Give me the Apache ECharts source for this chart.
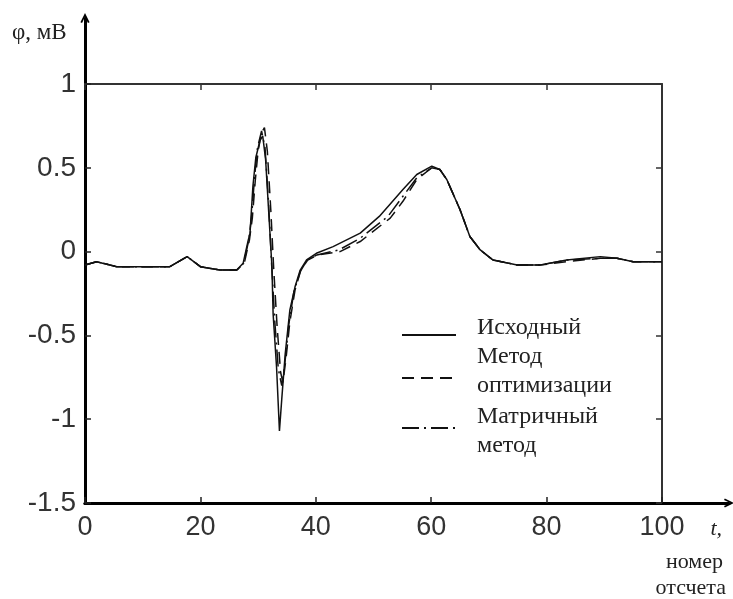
<!DOCTYPE html>
<html>
<head>
<meta charset="utf-8">
<script src="https://cdn.jsdelivr.net/npm/echarts@6/dist/echarts.min.js"></script>
<style>
  html, body { margin: 0; padding: 0; background: #fff; }
  #chart { width: 733px; height: 599px; }
</style>
</head>
<body>
<div id="chart"></div>
<script>
// номер отсчета / значения
var tOrig = [0, 2, 5.5, 10, 14.7, 17.7, 20, 23.4, 26.3, 27.4, 28.3, 28.6, 29.1, 29.6, 30.3, 30.8, 31.3, 31.9, 32.4, 32.6, 33.2, 33.7, 34.1, 34.7, 35.5, 36.4, 37.3, 38.4, 40.1, 43, 47.7, 51, 55.1, 57.5, 60.1, 61.5, 62.7, 65, 66.7, 68.5, 70.7, 74.9, 78.9, 83.5, 89.3, 92.2, 95, 100];
var yOrig = [-0.08, -0.06, -0.09, -0.09, -0.09, -0.03, -0.09, -0.11, -0.11, -0.07, 0.07, 0.11, 0.39, 0.56, 0.66, 0.69, 0.55, 0.2, -0.09, -0.37, -0.69, -1.07, -0.88, -0.61, -0.35, -0.21, -0.11, -0.05, -0.01, 0.03, 0.11, 0.21, 0.37, 0.46, 0.51, 0.49, 0.43, 0.25, 0.09, 0.01, -0.05, -0.08, -0.08, -0.05, -0.03, -0.04, -0.06, -0.06];

var tOpt = [0, 2, 5.5, 14.7, 17.7, 20, 23.4, 26.3, 27.6, 28.5, 29, 29.5, 30, 30.6, 31.1, 31.6, 32.2, 32.7, 33.3, 33.9, 34.3, 34.8, 35.5, 36.4, 37.4, 38.6, 40.3, 44.2, 47.7, 52.9, 55.1, 57.5, 60.1, 61.5, 62.7, 65, 66.7, 68.5, 70.7, 74.9, 78.9, 83.5, 89.3, 92.2, 95, 100];
var yOpt = [-0.08, -0.06, -0.09, -0.09, -0.03, -0.09, -0.11, -0.11, -0.07, 0.07, 0.2, 0.42, 0.6, 0.71, 0.74, 0.6, 0.25, -0.1, -0.45, -0.72, -0.78, -0.65, -0.42, -0.23, -0.11, -0.05, -0.02, 0.0, 0.06, 0.2, 0.3, 0.43, 0.5, 0.49, 0.43, 0.25, 0.09, 0.01, -0.05, -0.08, -0.08, -0.06, -0.04, -0.04, -0.06, -0.06];

var tMatr = [0, 2, 5.5, 14.7, 17.7, 20, 23.4, 26.3, 27.5, 28.4, 28.9, 29.4, 29.9, 30.6, 31.2, 31.8, 32.3, 32.9, 33.5, 34.1, 34.6, 35.3, 36.2, 37.3, 38.5, 40.2, 44, 47.7, 52.5, 55.1, 57.5, 60.1, 61.5, 62.7, 65, 66.7, 68.5, 70.7, 74.9, 78.9, 83.5, 89.3, 92.2, 95, 100];
var yMatr = [-0.08, -0.06, -0.09, -0.09, -0.03, -0.09, -0.11, -0.11, -0.07, 0.07, 0.22, 0.45, 0.62, 0.72, 0.62, 0.3, -0.05, -0.42, -0.7, -0.8, -0.68, -0.44, -0.24, -0.12, -0.05, -0.02, 0.01, 0.08, 0.21, 0.33, 0.44, 0.5, 0.49, 0.43, 0.25, 0.09, 0.01, -0.05, -0.08, -0.08, -0.05, -0.04, -0.04, -0.06, -0.06];

var seriesNames = ['Исходный', 'Метод оптимизации', 'Матричный метод'];

function pairs(xs, ys) {
    var out = [];
    for (var i = 0; i < xs.length; i++) out.push([xs[i], ys[i]]);
    return out;
}

var labelFont = '"Liberation Sans", Arial, sans-serif';
var serif = '"Liberation Serif", "Times New Roman", serif';
// open chevron for the axis arrows
var arrow = 'path://M0,10 L5,0 L10,10 L8.2,10.9 L5,4 L1.8,10.9 Z';

// legend text: empty lines shift the words against the line sample, as in the picture
var legendText = {};
legendText[seriesNames[0]] = '{s| }\n{t|Исходный}\n{b| }';
legendText[seriesNames[1]] = '{t|Метод}\n{t|оптимизации}\n{s| }';
legendText[seriesNames[2]] = '{a| }\n{t|Матричный}\n{t|метод}';

var myChart = echarts.init(document.getElementById('chart'));
myChart.setOption({
    animation: false,
    backgroundColor: '#fff',
    grid: [
        { left: 85, right: 71, top: 84, bottom: 96 },
        { left: 85, right: 4, top: 18, bottom: 96 }
    ],
    xAxis: [
        {
            type: 'value', gridIndex: 0, min: 0, max: 100, interval: 20,
            axisLine: { show: true, onZero: false, lineStyle: { color: '#000', width: 3 } },
            axisTick: { show: true, inside: true, length: 6, lineStyle: { color: '#222', width: 1.5 } },
            axisLabel: { fontFamily: labelFont, fontSize: 27, color: '#333', margin: 11 },
            splitLine: { show: false }
        },
        {
            type: 'value', gridIndex: 0, position: 'top', min: 0, max: 100, interval: 20,
            axisLine: { show: true, onZero: false, lineStyle: { color: '#333', width: 2 } },
            axisTick: { show: true, inside: true, length: 6, lineStyle: { color: '#333', width: 1.5 } },
            axisLabel: { show: false },
            splitLine: { show: false }
        },
        {
            type: 'value', gridIndex: 1, min: 0, max: 1,
            axisLine: { show: true, onZero: false, symbol: ['none', arrow], symbolSize: [18, 10], lineStyle: { color: '#000', width: 3 } },
            axisTick: { show: false }, axisLabel: { show: false }, splitLine: { show: false }
        }
    ],
    yAxis: [
        {
            type: 'value', gridIndex: 0, min: -1.5, max: 1, interval: 0.5,
            axisLine: { show: true, onZero: false, lineStyle: { color: '#000', width: 3 } },
            axisTick: { show: true, inside: true, length: 6, lineStyle: { color: '#222', width: 1.5 } },
            axisLabel: { fontFamily: labelFont, fontSize: 28, color: '#333', margin: 9 },
            splitLine: { show: false }
        },
        {
            type: 'value', gridIndex: 0, position: 'right', min: -1.5, max: 1, interval: 0.5,
            axisLine: { show: true, onZero: false, lineStyle: { color: '#333', width: 2 } },
            axisTick: { show: true, inside: true, length: 6, lineStyle: { color: '#333', width: 1.5 } },
            axisLabel: { show: false },
            splitLine: { show: false }
        },
        {
            type: 'value', gridIndex: 1, min: 0, max: 1,
            axisLine: { show: true, onZero: false, symbol: ['none', arrow], symbolSize: [18, 10], lineStyle: { color: '#000', width: 3 } },
            axisTick: { show: false }, axisLabel: { show: false }, splitLine: { show: false }
        }
    ],
    legend: {
        orient: 'vertical',
        left: 401,
        top: 302,
        padding: 0,
        itemGap: -16,
        itemWidth: 54,
        itemHeight: 14,
        itemStyle: { opacity: 0 },
        data: seriesNames,
        formatter: function (name) { return legendText[name]; },
        textStyle: {
            fontFamily: serif, fontSize: 24, color: '#222',
            rich: {
                t: { fontFamily: serif, fontSize: 24, color: '#222', lineHeight: 29, padding: [0, 0, 0, 16] },
                s: { fontSize: 10, lineHeight: 13 },
                a: { fontSize: 6, lineHeight: 7 },
                b: { fontSize: 10, lineHeight: 27 }
            }
        }
    },
    graphic: [
        { type: 'text', left: 12, top: 21, style: { text: 'φ, мВ', font: '23px ' + serif, fill: '#222' } },
        { type: 'text', right: 11, top: 518, style: { text: 't,', font: 'italic 22px ' + serif, fill: '#222' } },
        { type: 'text', right: 10, top: 551, style: { text: 'номер', font: '22px ' + serif, fill: '#222', align: 'right' } },
        { type: 'text', right: 7, top: 577, style: { text: 'отсчета', font: '22px ' + serif, fill: '#222', align: 'right' } }
    ],
    series: [
        {
            name: seriesNames[0], type: 'line', xAxisIndex: 0, yAxisIndex: 0,
            symbol: 'none', data: pairs(tOrig, yOrig),
            lineStyle: { color: '#111', width: 1.5, type: 'solid' }, itemStyle: { color: '#111' }
        },
        {
            name: seriesNames[1], type: 'line', xAxisIndex: 0, yAxisIndex: 0,
            symbol: 'none', data: pairs(tOpt, yOpt),
            lineStyle: { color: '#111', width: 1.5, type: [12, 7] }, itemStyle: { color: '#111' }
        },
        {
            name: seriesNames[2], type: 'line', xAxisIndex: 0, yAxisIndex: 0,
            symbol: 'none', data: pairs(tMatr, yMatr),
            lineStyle: { color: '#111', width: 1.5, type: [17, 5, 2, 5] }, itemStyle: { color: '#111' }
        }
    ]
});
</script>
</body>
</html>
